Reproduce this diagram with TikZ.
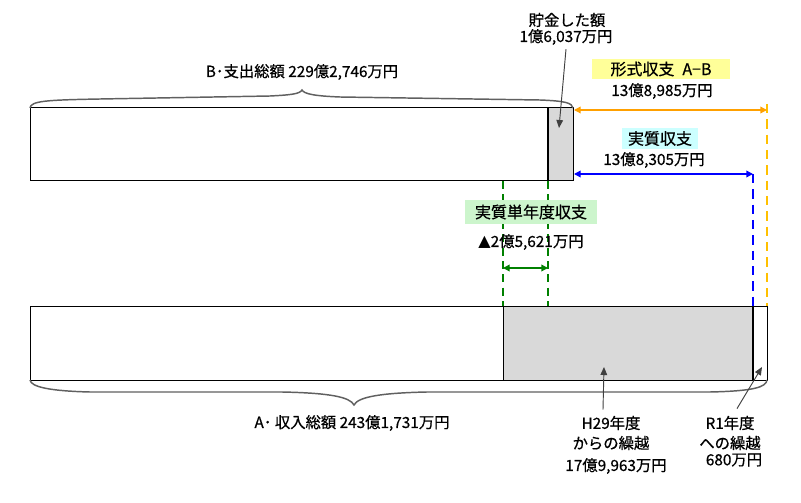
\documentclass[tikz,border=0pt]{standalone}
\usepackage{fontspec}
\setmainfont[FakeBold=0.6]{Noto Sans CJK JP}
\usetikzlibrary{arrows.meta}
\definecolor{grayfill}{HTML}{D9D9D9}
\definecolor{yelbg}{HTML}{FFFF99}
\definecolor{cyanbg}{HTML}{CCFFFF}
\definecolor{greenbg}{HTML}{CCF5CC}
\definecolor{dkgreen}{HTML}{008000}
\definecolor{orangeln}{HTML}{FFA000}
\definecolor{yelln}{HTML}{FFC000}
\definecolor{braceln}{HTML}{606060}
\tikzset{
  txt/.style={inner sep=0pt, font=\fontsize{11.5}{13}\selectfont},
  tagbox/.style={inner sep=0pt, font=\fontsize{12}{14}\selectfont},
  barline/.style={draw=black, line width=0.75pt},
  divline/.style={line width=1.8pt, black},
  bracestyle/.style={draw=braceln, line width=1.1pt},
  gdash/.style={dkgreen, line width=1.8pt, dash pattern=on 6pt off 4pt},
  bdash/.style={blue, line width=1.6pt, dash pattern=on 7pt off 4.5pt},
  odash/.style={yelln, line width=1.6pt, dash pattern=on 7pt off 4.5pt},
  ptr/.style={draw=black!75, line width=0.7pt, -{Triangle[length=6pt,width=5pt]}},
  dbl/.style={line width=1pt, {Triangle[length=5pt,width=5pt]}-{Triangle[length=5pt,width=5pt]}}
}
\begin{document}
\begin{tikzpicture}[x=0.75pt,y=-0.75pt]
\useasboundingbox (0,0) rectangle (801,503);
\fill[white] (0,0) rectangle (801,503);

% ---------- top bar (B) ----------
\coordinate (tTL) at (30,108);
\coordinate (tBR) at (573,181);
\coordinate (tDivT) at (548,108);
\coordinate (tDivB) at (548,181);
\fill[grayfill] (tDivT) rectangle (tBR);
\draw[barline] (tTL) rectangle (tBR);
\draw[divline] (tDivT) -- (tDivB);

% top brace
\draw[bracestyle] (30,108) .. controls (31,101) and (45,100) .. (100,99)
  -- (270,96) .. controls (290,95) and (300,94) .. (302,90)
  .. controls (304,94) and (315,96) .. (340,97)
  -- (540,100) .. controls (566,101) and (572,103) .. (573,108);
\node[txt] (Blbl) at (302,72) {B･支出総額 229億2,746万円};

% ---------- bottom bar (A) ----------
\coordinate (bTL) at (30,306);
\coordinate (bBR) at (767,380);
\coordinate (gL) at (503,306);
\coordinate (gR) at (753,380);
\coordinate (bDivT) at (753,306);
\fill[grayfill] (gL) rectangle (gR);
\draw[barline] (bTL) rectangle (bBR);
\draw[barline] (503,306) -- (503,380);
\draw[divline] (bDivT) -- (gR);

% bottom brace
\draw[bracestyle] (30,380) .. controls (31,387) and (50,391) .. (90,392)
  -- (282,392) .. controls (330,393) and (350,397) .. (354,405)
  .. controls (358,397) and (380,393) .. (427,392)
  -- (710,392) .. controls (755,391) and (766,387) .. (767,380);
\node[txt] (Albl) at (352,423) {A･ 収入総額 243億1,731万円};

% ---------- 貯金した額 ----------
\node[txt] (sav1) at (567,20) {貯金した額};
\node[txt] (sav2) at (566,37) {1億6,037万円};
\coordinate (savTip) at (559,128);
\draw[ptr] (sav2.south) ++(0,4) -- (savTip);

% ---------- 形式収支 (orange) ----------
\node[tagbox, fill=yelbg, minimum width=104pt, minimum height=15pt] (keishiki) at (661,69) {形式収支\hspace{6pt}A−B};
\node[txt] (keishikiV) at (662,91) {13億8,985万円};
\coordinate (oL) at (574,110);
\coordinate (oR) at (767,110);
\coordinate (oBot) at (767,306);
\draw[odash] (767,104) -- (oBot);
\draw[dbl, orangeln] (oL) -- (oR);

% ---------- 実質収支 (blue) ----------
\node[tagbox, fill=cyanbg, minimum width=57pt, minimum height=15.5pt] (jisshitsu) at (660,138.5) {実質収支};
\node[txt] (jisshitsuV) at (654,160) {13億8,305万円};
\coordinate (blL) at (574,174);
\coordinate (blR) at (753,174);
\coordinate (blBot) at (753,306);
\draw[bdash] (blR) -- (blBot);
\draw[dbl, blue] (blL) -- (blR);

% ---------- 実質単年度収支 (green) ----------
\coordinate (g1T) at (503,181);
\coordinate (g1B) at (503,306);
\coordinate (g2T) at (548,181);
\coordinate (g2B) at (548,306);
\draw[gdash] (g1T) -- (g1B);
\draw[gdash] (g2T) -- (g2B);
\node[tagbox, fill=greenbg, minimum width=99pt, minimum height=18pt] (tannen) at (531,212) {実質単年度収支};
\node[txt] (tannenV) at (531,242) {\fontspec{DejaVu Sans}\fontsize{12}{13}\selectfont ▲\fontspec[FakeBold=0.6]{Noto Sans CJK JP}\fontsize{11.5}{13}\selectfont 2億5,621万円};
\coordinate (gaL) at (503,268);
\coordinate (gaR) at (548,268);
\draw[dbl, dkgreen] (gaL) -- (gaR);

% ---------- H29 carry-in ----------
\node[txt] (h29a) at (611,423) {H29年度};
\node[txt] (h29b) at (611,443) {からの繰越};
\node[txt] (h29c) at (616,466) {17億9,963万円};
\coordinate (h29Tip) at (604,367);
\draw[ptr] (h29a.north) ++(-8,-6) -- (h29Tip);

% ---------- R1 carry-out ----------
\node[txt] (r1a) at (730,423) {R1年度};
\node[txt] (r1b) at (730,443) {への繰越};
\node[txt] (r1c) at (734,460) {680万円};
\coordinate (r1Tip) at (762,367);
\draw[ptr] (r1a.north) ++(7,-7) -- (r1Tip);
\end{tikzpicture}
\end{document}
